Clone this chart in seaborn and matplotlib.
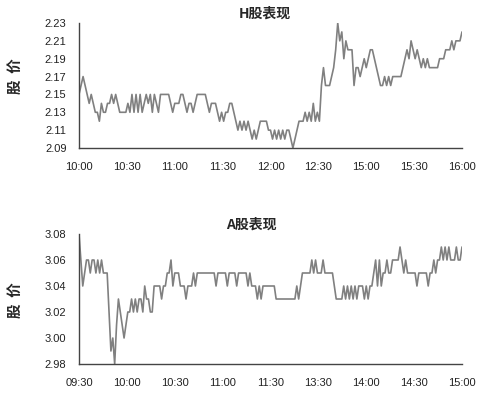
import numpy as np
import pandas as pd
import matplotlib
matplotlib.use('Agg')
import matplotlib.pyplot as plt
import seaborn as sns

# H share price (HKD)
h_prices = [
    2.15, 2.16, 2.17, 2.16, 2.15, 2.14, 2.15, 2.14, 2.13, 2.13, 2.12, 2.14, 2.13, 2.13, 2.14,
    2.14, 2.15, 2.14, 2.15, 2.14, 2.13, 2.13, 2.13, 2.13, 2.14, 2.13, 2.15, 2.13, 2.15, 2.13,
    2.15, 2.13, 2.14, 2.15, 2.14, 2.15, 2.13, 2.15, 2.14, 2.13, 2.15, 2.15, 2.15, 2.15, 2.15,
    2.14, 2.13, 2.14, 2.14, 2.14, 2.15, 2.15, 2.14, 2.13, 2.14, 2.14, 2.13, 2.14, 2.15, 2.15,
    2.15,
    2.15, 2.15, 2.14, 2.13, 2.14, 2.14, 2.14, 2.13, 2.12, 2.13, 2.12, 2.13, 2.13, 2.14, 2.14,
    2.13, 2.12, 2.11, 2.12, 2.11, 2.12, 2.11, 2.12, 2.11, 2.10, 2.11, 2.10, 2.11, 2.12, 2.12,
    2.12, 2.12, 2.11, 2.11, 2.10, 2.11, 2.10, 2.11, 2.10, 2.11, 2.10, 2.11, 2.11, 2.10, 2.09,
    2.10, 2.11, 2.12, 2.12, 2.12, 2.13, 2.12, 2.13, 2.12, 2.14, 2.12, 2.13, 2.12, 2.16, 2.18,
    2.16, 2.16,
    2.16, 2.17, 2.18, 2.20, 2.23, 2.21, 2.22, 2.19, 2.21, 2.20, 2.20, 2.20, 2.16, 2.18, 2.18,
    2.17, 2.18, 2.19, 2.18, 2.19, 2.20, 2.20, 2.19, 2.18, 2.17, 2.16, 2.16, 2.17, 2.16, 2.17,
    2.16, 2.17, 2.17, 2.17, 2.17, 2.17, 2.18, 2.19, 2.20, 2.19, 2.21, 2.20, 2.19, 2.20, 2.19,
    2.18, 2.19, 2.18, 2.19, 2.18, 2.18, 2.18, 2.18, 2.18, 2.19, 2.19, 2.19, 2.20, 2.20, 2.20,
    2.21, 2.20, 2.21, 2.21, 2.21, 2.22,
]
h_ticks = ['10:00', '10:30', '11:00', '11:30', '12:00', '12:30', '15:00', '15:30', '16:00']
h_yticks = [2.09, 2.11, 2.13, 2.15, 2.17, 2.19, 2.21, 2.23]

# A share price (CNY)
a_prices = [
    3.08, 3.06, 3.04, 3.05, 3.06, 3.06, 3.05, 3.06, 3.06, 3.05, 3.06, 3.05, 3.06, 3.05, 3.05,
    3.05, 3.02, 2.99, 3.00, 2.98, 3.01, 3.03, 3.02, 3.01, 3.00, 3.01, 3.02, 3.02, 3.03, 3.02,
    3.03, 3.02, 3.03, 3.03, 3.02, 3.04, 3.03, 3.03, 3.02, 3.02, 3.04, 3.04, 3.04, 3.04, 3.03,
    3.04, 3.04, 3.05, 3.05, 3.06, 3.04, 3.05, 3.05, 3.05, 3.04, 3.04, 3.04, 3.03, 3.04, 3.04,
    3.04, 3.05, 3.04, 3.05, 3.05, 3.05, 3.05, 3.05,
    3.05, 3.05, 3.05, 3.05, 3.05, 3.04, 3.05, 3.05, 3.05, 3.05, 3.05, 3.04, 3.05, 3.05, 3.05,
    3.05, 3.04, 3.05, 3.05, 3.05, 3.05, 3.05, 3.04, 3.05, 3.04, 3.04, 3.04, 3.03, 3.04, 3.03,
    3.04, 3.04, 3.04, 3.04, 3.04, 3.04, 3.04, 3.03, 3.03, 3.03, 3.03, 3.03, 3.03, 3.03, 3.03,
    3.03, 3.03, 3.03, 3.04, 3.03, 3.04, 3.05, 3.05, 3.05, 3.05, 3.05, 3.06, 3.05, 3.06, 3.05,
    3.05, 3.05, 3.06, 3.05, 3.05,
    3.05, 3.05, 3.05, 3.04, 3.03, 3.03, 3.03, 3.03, 3.04, 3.03, 3.04, 3.03, 3.04, 3.03, 3.04,
    3.03, 3.04, 3.04, 3.04, 3.03, 3.04, 3.03, 3.04, 3.04, 3.05, 3.06, 3.04, 3.06, 3.04, 3.05,
    3.05, 3.06, 3.05, 3.05, 3.06, 3.06, 3.06, 3.06, 3.07, 3.06, 3.05, 3.06, 3.05, 3.05, 3.05,
    3.05, 3.05, 3.04, 3.05, 3.05, 3.05, 3.05, 3.05, 3.04, 3.05, 3.05, 3.06, 3.05, 3.06, 3.06,
    3.07, 3.06, 3.07, 3.06, 3.07, 3.06, 3.06, 3.06, 3.07, 3.06, 3.06, 3.07,
]
a_ticks = ['09:30', '10:00', '10:30', '11:00', '11:30', '13:30', '14:00', '14:30', '15:00']
a_yticks = [2.98, 3.00, 3.02, 3.04, 3.06, 3.08]

sns.set_style('white')
plt.rcParams['font.family'] = ['Liberation Sans', 'Noto Sans CJK SC', 'DejaVu Sans']
cjk = ['Noto Sans CJK SC', 'DejaVu Sans']

fig = plt.figure(figsize=(5, 4), dpi=100)
ax1 = fig.add_axes([0.158, 0.63, 0.766, 0.3125])
ax2 = fig.add_axes([0.158, 0.09, 0.766, 0.325])


def draw(ax, prices, ticks, yticks, title, title_x):
    df = pd.DataFrame({'i': np.arange(len(prices)), 'price': prices})
    sns.lineplot(data=df, x='i', y='price', ax=ax, color='#808080', linewidth=1.2)
    ax.set_xlim(0, len(prices) - 1)
    ax.set_ylim(yticks[0], yticks[-1])
    ax.set_yticks(yticks)
    ax.set_yticklabels([f'{v:.2f}' for v in yticks])
    ax.set_xticks(np.linspace(0, len(prices) - 1, len(ticks)))
    ax.set_xticklabels(ticks)
    ax.tick_params(axis='both', length=0, labelsize=8, colors='#222222')
    ax.tick_params(axis='y', pad=9)
    ax.tick_params(axis='x', pad=10)
    for side in ['top', 'right']:
        ax.spines[side].set_visible(False)
    for side in ['left', 'bottom']:
        ax.spines[side].set_color('#444444')
        ax.spines[side].set_linewidth(1.0)
    ax.set_xlabel('')
    ax.set_ylabel('')
    ax.set_title(title, fontsize=10, fontweight='bold', family=cjk, pad=4, x=title_x)


draw(ax1, h_prices, h_ticks, h_yticks, 'H股表现', 0.486)
draw(ax2, a_prices, a_ticks, a_yticks, 'A股表现', 0.45)

fig.text(0.03, 1 - 76 / 400, '股  价', rotation=90, ha='center', va='center',
         fontsize=10.5, fontweight='bold', family=cjk)
fig.text(0.03, 1 - 300 / 400, '股  价', rotation=90, ha='center', va='center',
         fontsize=10.5, fontweight='bold', family=cjk)

fig.savefig('out.png', dpi=100)
